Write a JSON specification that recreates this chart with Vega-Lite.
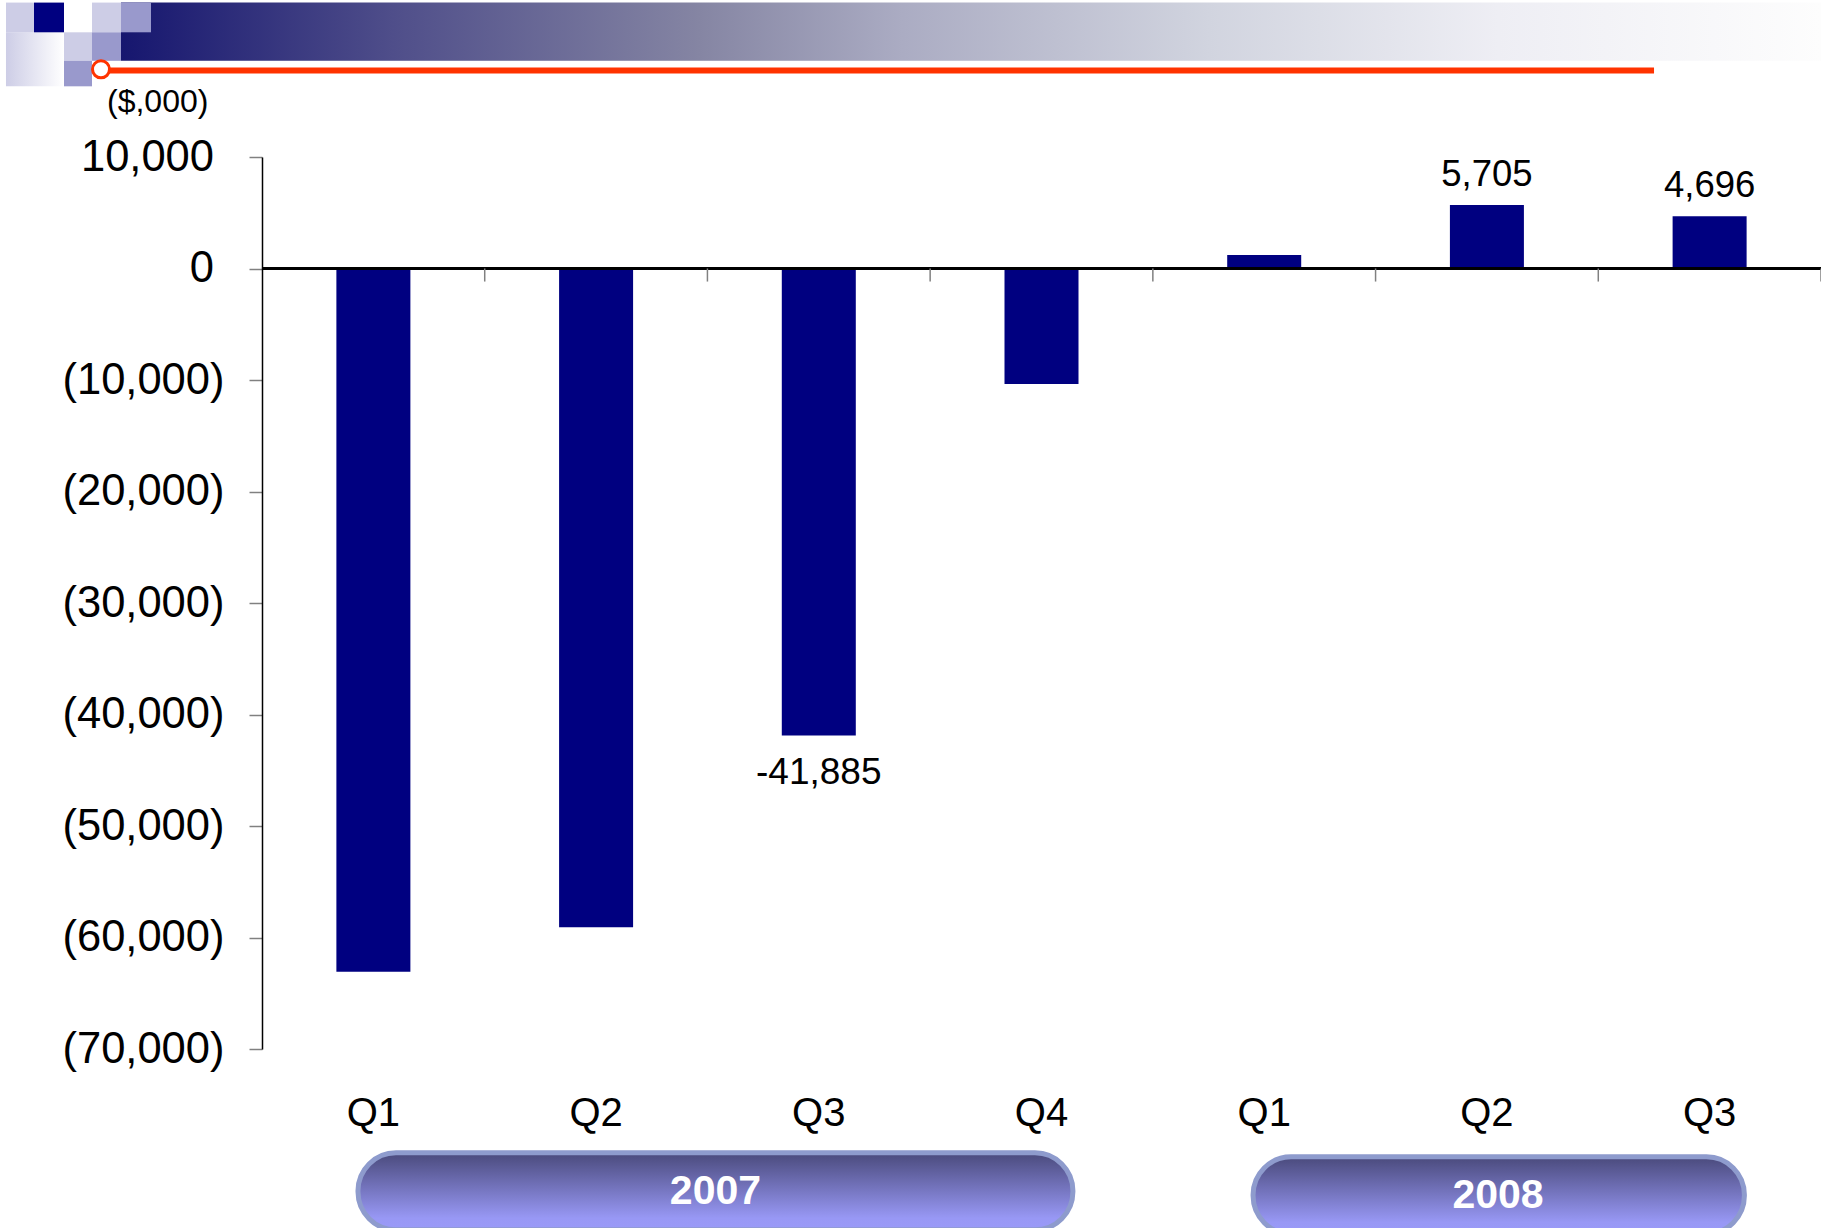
{
  "$schema": "https://vega.github.io/schema/vega-lite/v6.json",
  "width": 1559,
  "height": 892,
  "autosize": "none",
  "padding": {"left": 262, "top": 157, "right": 0, "bottom": 179},
  "background": "white",
  "config": {"view": {"stroke": null}, "font": "Liberation Sans"},
  "datasets": {
    "bars": [
      {"k": "2007 Q1", "v": -63080, "lbl": ""},
      {"k": "2007 Q2", "v": -59090, "lbl": ""},
      {"k": "2007 Q3", "v": -41885, "lbl": "-41,885"},
      {"k": "2007 Q4", "v": -10350, "lbl": ""},
      {"k": "2008 Q1", "v": 1220, "lbl": ""},
      {"k": "2008 Q2", "v": 5705, "lbl": "5,705"},
      {"k": "2008 Q3", "v": 4696, "lbl": "4,696"}
    ],
    "hdr": [{"bx": -0.6331, "bx2": 7.0, "y": 18627, "y2": 23849}],
    "fade": [{"bx": -1.1495, "bx2": -0.8891, "y": 16339, "y2": 21184}],
    "squares": [
      {"bx": -1.1495, "bx2": -1.0238, "y": 21184, "y2": 23849, "kind": "light"},
      {"bx": -1.0238, "bx2": -0.8891, "y": 21184, "y2": 23849, "kind": "navy"},
      {"bx": -0.8891, "bx2": -0.7633, "y": 18627, "y2": 21184, "kind": "light"},
      {"bx": -0.7633, "bx2": -0.6331, "y": 21184, "y2": 23849, "kind": "light"},
      {"bx": -0.6331, "bx2": -0.4984, "y": 21184, "y2": 23849, "kind": "mid"},
      {"bx": -0.7633, "bx2": -0.6331, "y": 18627, "y2": 21184, "kind": "mid"},
      {"bx": -0.8891, "bx2": -0.7633, "y": 16339, "y2": 18627, "kind": "mid"}
    ],
    "redline": [{"bx": -0.7229, "bx2": 6.2503, "y": 17766}],
    "dot": [{"bx": -0.7229, "y": 17865}],
    "unit": [{"bx": -0.696, "y": 14950, "t": "($,000)"}],
    "pills": [
      {"bx": 0.431, "bx2": 3.641, "y": -79310, "y2": -86220},
      {"bx": 4.45, "bx2": 6.656, "y": -79670, "y2": -86580}
    ],
    "years": [
      {"bx": 2.036, "y": -82810, "t": "2007"},
      {"bx": 5.55, "y": -83170, "t": "2008"}
    ]
  },
  "layer": [
    {
      "data": {"name": "hdr"},
      "mark": {
        "type": "rect",
        "fill": {
          "gradient": "linear", "x1": 0, "y1": 0, "x2": 1, "y2": 0,
          "stops": [
            {"offset": 0, "color": "#16166f"},
            {"offset": 0.16, "color": "#4f4e8a"},
            {"offset": 0.34, "color": "#8585a3"},
            {"offset": 0.46, "color": "#abacc3"},
            {"offset": 0.64, "color": "#d1d4df"},
            {"offset": 0.81, "color": "#eeeef4"},
            {"offset": 1, "color": "#fdfdfd"}
          ]
        }
      },
      "encoding": {
        "x": {"field": "bx", "type": "quantitative", "scale": {"domain": [0, 7], "nice": false, "zero": false}, "axis": null},
        "x2": {"field": "bx2"},
        "y": {"field": "y", "type": "quantitative", "scale": {"domain": [-70000, 10000], "nice": false, "zero": false}, "axis": null},
        "y2": {"field": "y2"}
      }
    },
    {
      "data": {"name": "fade"},
      "mark": {
        "type": "rect",
        "fill": {
          "gradient": "linear", "x1": 0, "y1": 0, "x2": 1, "y2": 0,
          "stops": [{"offset": 0, "color": "#cdcde6"}, {"offset": 1, "color": "#ffffff"}]
        }
      },
      "encoding": {
        "x": {"field": "bx", "type": "quantitative", "scale": {"domain": [0, 7], "nice": false, "zero": false}, "axis": null},
        "x2": {"field": "bx2"},
        "y": {"field": "y", "type": "quantitative", "scale": {"domain": [-70000, 10000], "nice": false, "zero": false}, "axis": null},
        "y2": {"field": "y2"}
      }
    },
    {
      "data": {"name": "squares"},
      "mark": {"type": "rect"},
      "encoding": {
        "x": {"field": "bx", "type": "quantitative", "scale": {"domain": [0, 7], "nice": false, "zero": false}, "axis": null},
        "x2": {"field": "bx2"},
        "y": {"field": "y", "type": "quantitative", "scale": {"domain": [-70000, 10000], "nice": false, "zero": false}, "axis": null},
        "y2": {"field": "y2"},
        "color": {
          "field": "kind", "type": "nominal",
          "scale": {"domain": ["light", "mid", "navy"], "range": ["#cdcde6", "#9999cc", "#000080"]},
          "legend": null
        }
      }
    },
    {
      "data": {"name": "redline"},
      "mark": {"type": "rule", "color": "#ff3300", "strokeWidth": 6},
      "encoding": {
        "x": {"field": "bx", "type": "quantitative", "scale": {"domain": [0, 7], "nice": false, "zero": false}, "axis": null},
        "x2": {"field": "bx2"},
        "y": {"field": "y", "type": "quantitative", "scale": {"domain": [-70000, 10000], "nice": false, "zero": false}, "axis": null}
      }
    },
    {
      "data": {"name": "dot"},
      "mark": {"type": "point", "shape": "circle", "filled": true, "fill": "white", "stroke": "#ff3300", "strokeWidth": 3, "size": 289, "opacity": 1},
      "encoding": {
        "x": {"field": "bx", "type": "quantitative", "scale": {"domain": [0, 7], "nice": false, "zero": false}, "axis": null},
        "y": {"field": "y", "type": "quantitative", "scale": {"domain": [-70000, 10000], "nice": false, "zero": false}, "axis": null}
      }
    },
    {
      "data": {"name": "unit"},
      "mark": {"type": "text", "align": "left", "baseline": "middle", "fontSize": 32, "color": "black"},
      "encoding": {
        "x": {"field": "bx", "type": "quantitative", "scale": {"domain": [0, 7], "nice": false, "zero": false}, "axis": null},
        "y": {"field": "y", "type": "quantitative", "scale": {"domain": [-70000, 10000], "nice": false, "zero": false}, "axis": null},
        "text": {"field": "t"}
      }
    },
    {
      "data": {"name": "pills"},
      "mark": {
        "type": "rect", "cornerRadius": 38, "stroke": "#8e9bcd", "strokeWidth": 5,
        "fill": {
          "gradient": "linear", "x1": 0, "y1": 0, "x2": 0, "y2": 1,
          "stops": [{"offset": 0, "color": "#4a4a7c"}, {"offset": 0.85, "color": "#9898f5"}, {"offset": 1, "color": "#9a9af8"}]
        }
      },
      "encoding": {
        "x": {"field": "bx", "type": "quantitative", "scale": {"domain": [0, 7], "nice": false, "zero": false}, "axis": null},
        "x2": {"field": "bx2"},
        "y": {"field": "y", "type": "quantitative", "scale": {"domain": [-70000, 10000], "nice": false, "zero": false}, "axis": null},
        "y2": {"field": "y2"}
      }
    },
    {
      "data": {"name": "years"},
      "mark": {"type": "text", "align": "center", "baseline": "middle", "fontSize": 41, "fontWeight": "bold", "color": "white"},
      "encoding": {
        "x": {"field": "bx", "type": "quantitative", "scale": {"domain": [0, 7], "nice": false, "zero": false}, "axis": null},
        "y": {"field": "y", "type": "quantitative", "scale": {"domain": [-70000, 10000], "nice": false, "zero": false}, "axis": null},
        "text": {"field": "t"}
      }
    },
    {
      "data": {"name": "bars"},
      "mark": {"type": "bar", "color": "#000080"},
      "encoding": {
        "x": {
          "field": "k", "type": "nominal", "sort": null,
          "scale": {
            "domain": ["2007 Q1", "2007 Q2", "2007 Q3", "2007 Q4", "2008 Q1", "2008 Q2", "2008 Q3"],
            "paddingInner": 0.6677, "paddingOuter": 0.334
          },
          "axis": {
            "orient": "bottom",
            "title": null, "labelExpr": "substring(datum.label, 5)", "labelFontSize": 40,
            "labelColor": "black", "labelPadding": 44, "ticks": false, "tickSize": 0,
            "domain": false, "labelAngle": 0, "labelFont": "Liberation Sans"
          }
        },
        "y": {
          "field": "v", "type": "quantitative",
          "scale": {"domain": [-70000, 10000], "nice": false, "zero": false},
          "axis": {
            "orient": "left",
            "title": null,
            "values": [-70000, -60000, -50000, -40000, -30000, -20000, -10000, 0, 10000],
            "labelExpr": "datum.value < 0 ? '(' + format(-datum.value, ',') + ')' : format(datum.value, ',')",
            "labelFontSize": 43.5, "labelColor": "black", "labelFont": "Liberation Sans",
            "labelPadding": {"condition": {"test": "datum.value >= 0", "value": 35.5}, "value": 25},
            "tickSize": 13, "tickColor": "#808080", "tickWidth": 1.5,
            "domainColor": "black", "domainWidth": 1.5, "grid": false
          }
        },
        "y2": {"datum": 0}
      }
    },
    {
      "data": {"name": "bars"},
      "mark": {"type": "rule", "color": "black", "strokeWidth": 2},
      "encoding": {"y": {"datum": 0, "type": "quantitative", "scale": {"domain": [-70000, 10000], "nice": false, "zero": false}, "axis": null}}
    },
    {
      "data": {"name": "bars"},
      "mark": {"type": "rule", "color": "#808080", "strokeWidth": 1.5},
      "encoding": {
        "x": {
          "field": "k", "type": "nominal", "sort": null, "bandPosition": 1,
          "scale": {
            "domain": ["2007 Q1", "2007 Q2", "2007 Q3", "2007 Q4", "2008 Q1", "2008 Q2", "2008 Q3"],
            "paddingInner": 0, "paddingOuter": 0
          },
          "axis": null
        },
        "y": {"datum": 0, "type": "quantitative", "scale": {"domain": [-70000, 10000], "nice": false, "zero": false}, "axis": null},
        "y2": {"datum": -1170}
      }
    },
    {
      "data": {"name": "bars"},
      "transform": [{"filter": "datum.v > 0 && datum.lbl != ''"}],
      "mark": {"type": "text", "fontSize": 36.5, "dy": -30, "baseline": "middle", "color": "black"},
      "encoding": {
        "x": {
          "field": "k", "type": "nominal", "sort": null,
          "scale": {
            "domain": ["2007 Q1", "2007 Q2", "2007 Q3", "2007 Q4", "2008 Q1", "2008 Q2", "2008 Q3"],
            "paddingInner": 0.6677, "paddingOuter": 0.334
          },
          "axis": null
        },
        "y": {"field": "v", "type": "quantitative", "scale": {"domain": [-70000, 10000], "nice": false, "zero": false}, "axis": null},
        "text": {"field": "lbl"}
      }
    },
    {
      "data": {"name": "bars"},
      "transform": [{"filter": "datum.v < 0 && datum.lbl != ''"}],
      "mark": {"type": "text", "fontSize": 37, "dy": 37, "baseline": "middle", "color": "black"},
      "encoding": {
        "x": {
          "field": "k", "type": "nominal", "sort": null,
          "scale": {
            "domain": ["2007 Q1", "2007 Q2", "2007 Q3", "2007 Q4", "2008 Q1", "2008 Q2", "2008 Q3"],
            "paddingInner": 0.6677, "paddingOuter": 0.334
          },
          "axis": null
        },
        "y": {"field": "v", "type": "quantitative", "scale": {"domain": [-70000, 10000], "nice": false, "zero": false}, "axis": null},
        "text": {"field": "lbl"}
      }
    }
  ],
  "resolve": {"scale": {"x": "independent", "y": "independent"}}
}
